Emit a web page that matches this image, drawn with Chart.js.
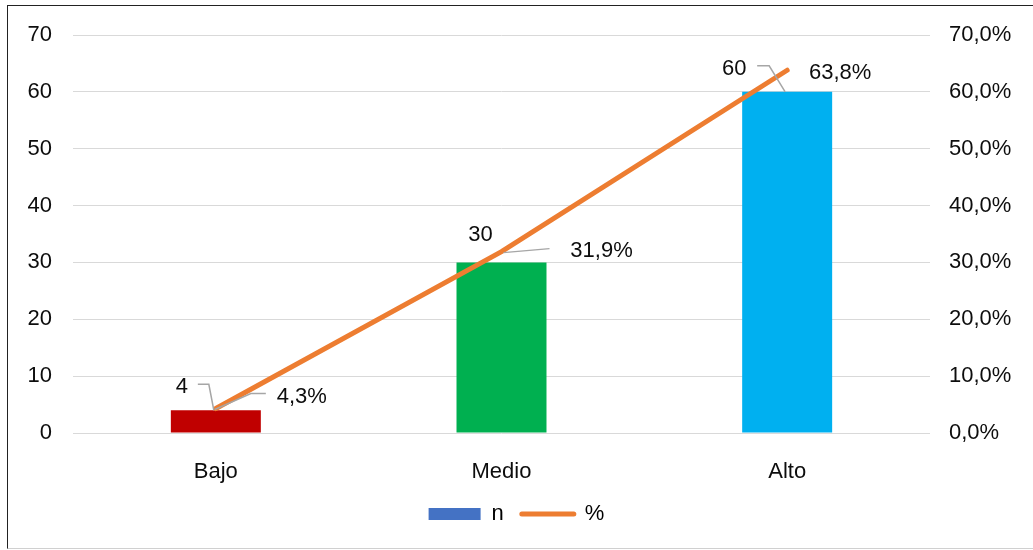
<!DOCTYPE html>
<html>
<head>
<meta charset="utf-8">
<script src="https://cdn.jsdelivr.net/npm/chart.js@4/dist/chart.umd.min.js"></script>
<style>
  body { margin: 0; background: #fff; }
  #marco { position: absolute; left: 7px; top: 5px; width: 1040px; height: 542px;
           border-left: 1px solid #222; border-top: 1px solid #222; border-bottom: 1px solid #d0d0d0;
           pointer-events: none; }
  canvas { position: absolute; left: 0; top: 0; }
</style>
</head>
<body>
<canvas id="grafico" width="1033" height="550"></canvas>
<div id="marco"></div>
<script>
// Datos
const categorias = ["Bajo", "Medio", "Alto"];
const valoresN = [4, 30, 60];
const valoresPct = [4.3, 31.9, 63.8];
const ticksIzq = [0, 10, 20, 30, 40, 50, 60, 70];

const fuente = '"Liberation Sans", Arial, sans-serif';

// Posición de las etiquetas (relativa a cada marca) y sus líneas guía
const offsetsN = [[-34, -23], [-21, -27], [-53, -23]];
const guiasN = [[[-18, -26], [-7, -26], [-2, 0]], null, [[-30, -26], [-18, -26], [-2, 0]]];
const offsetsPct = [[86, -12], [100, -1], [53, 3]];
const guiasPct = [[[-1, 1], [35, -15], [50, -15]], [[2, 1], [48, -3]], null];

function formatoPct(v) {
    return v.toFixed(1).replace(".", ",") + "%";
}

const etiquetas = {
    id: "etiquetas",
    afterDatasetsDraw(chart) {
        const ctx = chart.ctx;
        ctx.save();
        const dibujar = (meta, textos, offsets, guias) => {
            meta.data.forEach((el, i) => {
                const g = guias[i];
                if (g) {
                    ctx.strokeStyle = "#a6a6a6";
                    ctx.lineWidth = 1.5;
                    ctx.beginPath();
                    g.forEach((p, k) => {
                        if (k === 0) ctx.moveTo(el.x + p[0], el.y + p[1]);
                        else ctx.lineTo(el.x + p[0], el.y + p[1]);
                    });
                    ctx.stroke();
                }
                ctx.fillStyle = "#0d0d0d";
                ctx.font = "22px " + fuente;
                ctx.textAlign = "center";
                ctx.textBaseline = "middle";
                ctx.fillText(textos[i], el.x + offsets[i][0], el.y + offsets[i][1]);
            });
        };
        dibujar(chart.getDatasetMeta(0), valoresN.map(String), offsetsN, guiasN);
        dibujar(chart.getDatasetMeta(1), valoresPct.map(formatoPct), offsetsPct, guiasPct);
        ctx.restore();
    }
};

document.addEventListener("DOMContentLoaded", () => {
    const ctx = document.getElementById("grafico").getContext("2d");
    new Chart(ctx, {
        type: "bar",
        data: {
            labels: categorias,
            datasets: [
                {
                    label: "n",
                    data: valoresN,
                    backgroundColor: ["#C00000", "#00B050", "#00B0F0"],
                    barPercentage: 0.315,
                    categoryPercentage: 1,
                    yAxisID: "y",
                    order: 2
                },
                {
                    type: "line",
                    label: "%",
                    data: valoresPct,
                    borderColor: "#ED7D31",
                    backgroundColor: "#ED7D31",
                    borderWidth: 5,
                    borderCapStyle: "round",
                    pointRadius: 0,
                    tension: 0,
                    yAxisID: "y2",
                    order: 1
                }
            ]
        },
        options: {
            responsive: false,
            animation: false,
            layout: { padding: { top: 35, bottom: 15, left: 0, right: 0 } },
            scales: {
                x: {
                    grid: { display: false },
                    border: { display: false },
                    ticks: { color: "#0d0d0d", font: { family: fuente, size: 22 }, padding: 18 },
                    afterFit: (s) => { s.height = 52; }
                },
                y: {
                    position: "left",
                    min: 0,
                    max: 70,
                    afterBuildTicks: (s) => { s.ticks = ticksIzq.map(v => ({ value: v })); },
                    grid: { color: "#d9d9d9", lineWidth: 1, drawTicks: false },
                    border: { display: false },
                    ticks: { color: "#0d0d0d", font: { family: fuente, size: 22 }, padding: 21 },
                    afterFit: (s) => { s.width = 73; }
                },
                y2: {
                    position: "right",
                    min: 0,
                    max: 70,
                    afterBuildTicks: (s) => { s.ticks = ticksIzq.map(v => ({ value: v })); },
                    grid: { drawOnChartArea: false, drawTicks: false },
                    border: { display: false },
                    ticks: {
                        color: "#0d0d0d",
                        font: { family: fuente, size: 22 },
                        padding: 19,
                        callback: (v) => formatoPct(v)
                    },
                    afterFit: (s) => { s.width = 103; }
                }
            },
            plugins: {
                legend: {
                    position: "bottom",
                    labels: {
                        color: "#0d0d0d",
                        font: { family: fuente, size: 22 },
                        usePointStyle: true,
                        pointStyleWidth: 52,
                        boxHeight: 12,
                        padding: 18,
                        generateLabels: () => [
                            { text: "n", pointStyle: "rect", fillStyle: "#4472C4", strokeStyle: "#4472C4", lineWidth: 0, datasetIndex: 0 },
                            { text: "%", pointStyle: "line", fillStyle: "#ED7D31", strokeStyle: "#ED7D31", lineWidth: 5, lineCap: "round", datasetIndex: 1 }
                        ]
                    }
                },
                tooltip: { enabled: false }
            }
        },
        plugins: [etiquetas]
    });
});
</script>
</body>
</html>
